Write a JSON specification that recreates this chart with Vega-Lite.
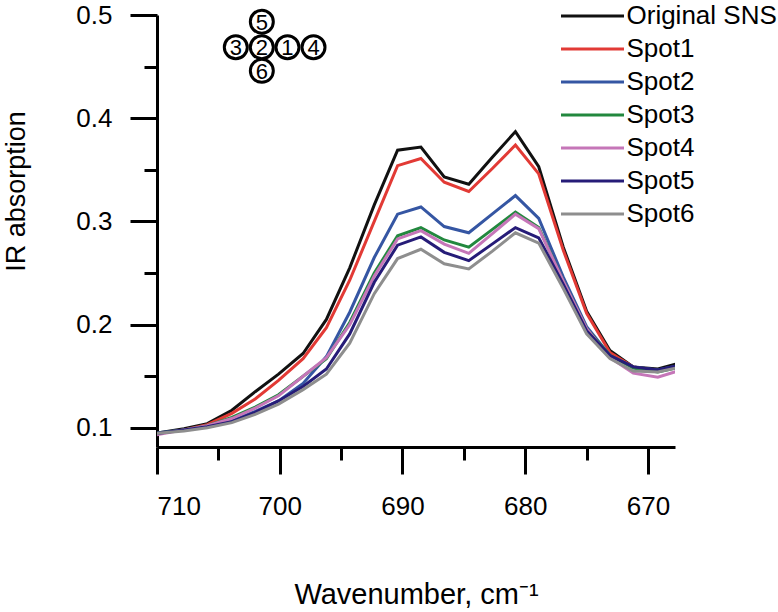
{
  "$schema": "https://vega.github.io/schema/vega-lite/v6.json",
  "autosize": "none",
  "padding": {"left": 157, "top": 15, "right": 103, "bottom": 165},
  "width": 518,
  "height": 432,
  "background": "white",
  "config": {
    "view": {"stroke": null},
    "axis": {
      "domainColor": "black", "domainWidth": 3, "tickColor": "black", "tickWidth": 3,
      "labelFont": "Liberation Sans", "labelFontSize": 26, "labelColor": "black",
      "titleFont": "Liberation Sans", "titleColor": "black", "titleFontWeight": "normal",
      "grid": false
    },
    "legend": {"labelFont": "Liberation Sans"}
  },
  "datasets": {
    "spectra": [
      {"w":711.6,"s":"Original SNS","v":0.092},{"w":709.7,"s":"Original SNS","v":0.0955},{"w":707.8,"s":"Original SNS","v":0.099},{"w":705.9,"s":"Original SNS","v":0.104},{"w":703.9,"s":"Original SNS","v":0.117},{"w":702.0,"s":"Original SNS","v":0.135},{"w":700.1,"s":"Original SNS","v":0.152},{"w":698.1,"s":"Original SNS","v":0.172},{"w":696.2,"s":"Original SNS","v":0.205},{"w":694.3,"s":"Original SNS","v":0.255},{"w":692.3,"s":"Original SNS","v":0.316},{"w":690.4,"s":"Original SNS","v":0.369},{"w":688.5,"s":"Original SNS","v":0.372},{"w":686.6,"s":"Original SNS","v":0.343},{"w":684.6,"s":"Original SNS","v":0.336},{"w":682.7,"s":"Original SNS","v":0.362},{"w":680.8,"s":"Original SNS","v":0.387},{"w":678.9,"s":"Original SNS","v":0.353},{"w":676.9,"s":"Original SNS","v":0.275},{"w":675.0,"s":"Original SNS","v":0.213},{"w":673.1,"s":"Original SNS","v":0.175},{"w":671.2,"s":"Original SNS","v":0.159},{"w":669.2,"s":"Original SNS","v":0.157},{"w":667.3,"s":"Original SNS","v":0.163},
      {"w":711.6,"s":"Spot1","v":0.091},{"w":709.7,"s":"Spot1","v":0.095},{"w":707.8,"s":"Spot1","v":0.098},{"w":705.9,"s":"Spot1","v":0.103},{"w":703.9,"s":"Spot1","v":0.114},{"w":702.0,"s":"Spot1","v":0.128},{"w":700.1,"s":"Spot1","v":0.146},{"w":698.1,"s":"Spot1","v":0.167},{"w":696.2,"s":"Spot1","v":0.197},{"w":694.3,"s":"Spot1","v":0.243},{"w":692.3,"s":"Spot1","v":0.300},{"w":690.4,"s":"Spot1","v":0.354},{"w":688.5,"s":"Spot1","v":0.361},{"w":686.6,"s":"Spot1","v":0.338},{"w":684.6,"s":"Spot1","v":0.329},{"w":682.7,"s":"Spot1","v":0.351},{"w":680.8,"s":"Spot1","v":0.374},{"w":678.9,"s":"Spot1","v":0.346},{"w":676.9,"s":"Spot1","v":0.272},{"w":675.0,"s":"Spot1","v":0.211},{"w":673.1,"s":"Spot1","v":0.173},{"w":671.2,"s":"Spot1","v":0.159},{"w":669.2,"s":"Spot1","v":0.155},{"w":667.3,"s":"Spot1","v":0.160},
      {"w":711.6,"s":"Spot2","v":0.092},{"w":709.7,"s":"Spot2","v":0.0955},{"w":707.8,"s":"Spot2","v":0.098},{"w":705.9,"s":"Spot2","v":0.101},{"w":703.9,"s":"Spot2","v":0.107},{"w":702.0,"s":"Spot2","v":0.116},{"w":700.1,"s":"Spot2","v":0.126},{"w":698.1,"s":"Spot2","v":0.143},{"w":696.2,"s":"Spot2","v":0.169},{"w":694.3,"s":"Spot2","v":0.212},{"w":692.3,"s":"Spot2","v":0.265},{"w":690.4,"s":"Spot2","v":0.307},{"w":688.5,"s":"Spot2","v":0.314},{"w":686.6,"s":"Spot2","v":0.295},{"w":684.6,"s":"Spot2","v":0.289},{"w":682.7,"s":"Spot2","v":0.307},{"w":680.8,"s":"Spot2","v":0.325},{"w":678.9,"s":"Spot2","v":0.303},{"w":676.9,"s":"Spot2","v":0.246},{"w":675.0,"s":"Spot2","v":0.198},{"w":673.1,"s":"Spot2","v":0.170},{"w":671.2,"s":"Spot2","v":0.159},{"w":669.2,"s":"Spot2","v":0.156},{"w":667.3,"s":"Spot2","v":0.161},
      {"w":711.6,"s":"Spot3","v":0.091},{"w":709.7,"s":"Spot3","v":0.095},{"w":707.8,"s":"Spot3","v":0.098},{"w":705.9,"s":"Spot3","v":0.102},{"w":703.9,"s":"Spot3","v":0.110},{"w":702.0,"s":"Spot3","v":0.120},{"w":700.1,"s":"Spot3","v":0.132},{"w":698.1,"s":"Spot3","v":0.150},{"w":696.2,"s":"Spot3","v":0.167},{"w":694.3,"s":"Spot3","v":0.202},{"w":692.3,"s":"Spot3","v":0.250},{"w":690.4,"s":"Spot3","v":0.286},{"w":688.5,"s":"Spot3","v":0.294},{"w":686.6,"s":"Spot3","v":0.282},{"w":684.6,"s":"Spot3","v":0.275},{"w":682.7,"s":"Spot3","v":0.292},{"w":680.8,"s":"Spot3","v":0.309},{"w":678.9,"s":"Spot3","v":0.294},{"w":676.9,"s":"Spot3","v":0.242},{"w":675.0,"s":"Spot3","v":0.196},{"w":673.1,"s":"Spot3","v":0.170},{"w":671.2,"s":"Spot3","v":0.158},{"w":669.2,"s":"Spot3","v":0.154},{"w":667.3,"s":"Spot3","v":0.159},
      {"w":711.6,"s":"Spot4","v":0.090},{"w":709.7,"s":"Spot4","v":0.094},{"w":707.8,"s":"Spot4","v":0.098},{"w":705.9,"s":"Spot4","v":0.102},{"w":703.9,"s":"Spot4","v":0.109},{"w":702.0,"s":"Spot4","v":0.119},{"w":700.1,"s":"Spot4","v":0.131},{"w":698.1,"s":"Spot4","v":0.150},{"w":696.2,"s":"Spot4","v":0.168},{"w":694.3,"s":"Spot4","v":0.200},{"w":692.3,"s":"Spot4","v":0.247},{"w":690.4,"s":"Spot4","v":0.283},{"w":688.5,"s":"Spot4","v":0.291},{"w":686.6,"s":"Spot4","v":0.278},{"w":684.6,"s":"Spot4","v":0.269},{"w":682.7,"s":"Spot4","v":0.288},{"w":680.8,"s":"Spot4","v":0.307},{"w":678.9,"s":"Spot4","v":0.293},{"w":676.9,"s":"Spot4","v":0.242},{"w":675.0,"s":"Spot4","v":0.196},{"w":673.1,"s":"Spot4","v":0.168},{"w":671.2,"s":"Spot4","v":0.153},{"w":669.2,"s":"Spot4","v":0.149},{"w":667.3,"s":"Spot4","v":0.156},
      {"w":711.6,"s":"Spot5","v":0.091},{"w":709.7,"s":"Spot5","v":0.095},{"w":707.8,"s":"Spot5","v":0.098},{"w":705.9,"s":"Spot5","v":0.101},{"w":703.9,"s":"Spot5","v":0.106},{"w":702.0,"s":"Spot5","v":0.115},{"w":700.1,"s":"Spot5","v":0.126},{"w":698.1,"s":"Spot5","v":0.140},{"w":696.2,"s":"Spot5","v":0.157},{"w":694.3,"s":"Spot5","v":0.191},{"w":692.3,"s":"Spot5","v":0.241},{"w":690.4,"s":"Spot5","v":0.277},{"w":688.5,"s":"Spot5","v":0.285},{"w":686.6,"s":"Spot5","v":0.270},{"w":684.6,"s":"Spot5","v":0.262},{"w":682.7,"s":"Spot5","v":0.278},{"w":680.8,"s":"Spot5","v":0.294},{"w":678.9,"s":"Spot5","v":0.284},{"w":676.9,"s":"Spot5","v":0.239},{"w":675.0,"s":"Spot5","v":0.194},{"w":673.1,"s":"Spot5","v":0.170},{"w":671.2,"s":"Spot5","v":0.159},{"w":669.2,"s":"Spot5","v":0.156},{"w":667.3,"s":"Spot5","v":0.161},
      {"w":711.6,"s":"Spot6","v":0.092},{"w":709.7,"s":"Spot6","v":0.095},{"w":707.8,"s":"Spot6","v":0.097},{"w":705.9,"s":"Spot6","v":0.100},{"w":703.9,"s":"Spot6","v":0.105},{"w":702.0,"s":"Spot6","v":0.113},{"w":700.1,"s":"Spot6","v":0.123},{"w":698.1,"s":"Spot6","v":0.137},{"w":696.2,"s":"Spot6","v":0.152},{"w":694.3,"s":"Spot6","v":0.182},{"w":692.3,"s":"Spot6","v":0.230},{"w":690.4,"s":"Spot6","v":0.264},{"w":688.5,"s":"Spot6","v":0.273},{"w":686.6,"s":"Spot6","v":0.259},{"w":684.6,"s":"Spot6","v":0.254},{"w":682.7,"s":"Spot6","v":0.271},{"w":680.8,"s":"Spot6","v":0.289},{"w":678.9,"s":"Spot6","v":0.279},{"w":676.9,"s":"Spot6","v":0.235},{"w":675.0,"s":"Spot6","v":0.191},{"w":673.1,"s":"Spot6","v":0.167},{"w":671.2,"s":"Spot6","v":0.155},{"w":669.2,"s":"Spot6","v":0.154},{"w":667.3,"s":"Spot6","v":0.159}
    ],
    "spots": [
      {"w":699.37,"v":0.4688,"label":"1"},
      {"w":701.46,"v":0.4688,"label":"2"},
      {"w":703.58,"v":0.4688,"label":"3"},
      {"w":697.25,"v":0.4688,"label":"4"},
      {"w":701.46,"v":0.4935,"label":"5"},
      {"w":701.46,"v":0.4459,"label":"6"}
    ]
  },
  "layer": [
    {
      "data": {"name": "spectra"},
      "mark": {"type": "line", "strokeWidth": 3, "clip": true},
      "encoding": {
        "x": {
          "field": "w", "type": "quantitative",
          "scale": {"domain": [667.8, 710], "reverse": true, "nice": false, "zero": false},
          "axis": {
            "values": [670, 675, 680, 685, 690, 695, 700, 705, 710],
            "labelExpr": "datum.value % 10 === 0 ? datum.label : ''",
            "tickSize": {"condition": {"test": "datum.value % 10 === 0", "value": 27}, "value": 13},
            "labelPadding": 19,
            "title": "Wavenumber, cm⁻¹",
            "titleFontSize": 29,
            "titleBaseline": "alphabetic",
            "titleY": 156
          }
        },
        "y": {
          "field": "v", "type": "quantitative",
          "scale": {"domain": [0.0814, 0.5], "nice": false, "zero": false},
          "axis": {
            "values": [0.1, 0.15, 0.2, 0.25, 0.3, 0.35, 0.4, 0.45, 0.5],
            "labelExpr": "abs(datum.value * 10 - round(datum.value * 10)) < 0.01 ? format(datum.value, '.1f') : ''",
            "tickSize": {"condition": {"test": "abs(datum.value * 10 - round(datum.value * 10)) < 0.01", "value": 27}, "value": 13},
            "labelPadding": 18,
            "title": "IR absorption",
            "titleFontSize": 27,
            "titleBaseline": "alphabetic",
            "titleX": -133,
            "titleY": 176
          }
        },
        "color": {
          "field": "s", "type": "nominal",
          "scale": {
            "domain": ["Original SNS", "Spot1", "Spot2", "Spot3", "Spot4", "Spot5", "Spot6"],
            "range": ["#111111", "#e23a35", "#3556a3", "#22883e", "#c576b8", "#261c78", "#8e8e8e"]
          },
          "legend": {
            "title": null,
            "orient": "none",
            "legendX": 402.5,
            "legendY": -15.5,
            "symbolType": "stroke",
            "symbolSize": 3969,
            "symbolStrokeWidth": 3,
            "labelFontSize": 26,
            "labelColor": "black",
            "labelOffset": 1,
            "clipHeight": 33,
            "rowPadding": 0,
            "padding": 0
          }
        }
      }
    },
    {
      "data": {"name": "spots"},
      "mark": {"type": "point", "shape": "circle", "size": 529, "stroke": "black", "strokeWidth": 3, "fill": "white", "fillOpacity": 1, "opacity": 1, "filled": false},
      "encoding": {
        "x": {"field": "w", "type": "quantitative"},
        "y": {"field": "v", "type": "quantitative"}
      }
    },
    {
      "data": {"name": "spots"},
      "mark": {"type": "text", "font": "Liberation Sans", "fontSize": 22, "color": "black", "align": "center", "baseline": "middle", "dy": 1},
      "encoding": {
        "x": {"field": "w", "type": "quantitative"},
        "y": {"field": "v", "type": "quantitative"},
        "text": {"field": "label"}
      }
    }
  ]
}
